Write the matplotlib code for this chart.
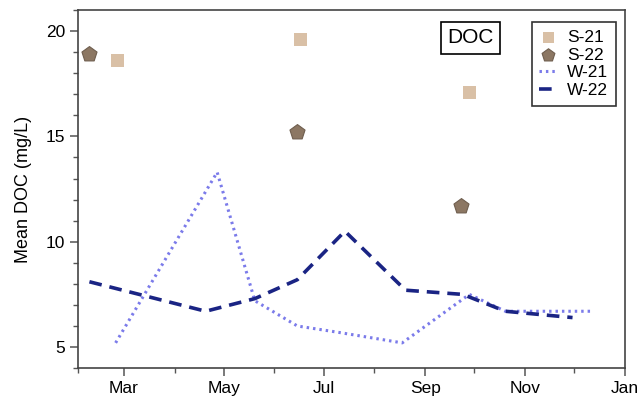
import numpy as np
import pandas as pd
import matplotlib.pyplot as plt
import matplotlib.dates as mdates

plt.rcParams['font.family'] = ['Liberation Sans', 'DejaVu Sans']

# sample dates (plotted on one seasonal axis) and mean DOC values
s21_dates = ["2021-02-25", "2021-06-17", "2021-09-28"]
s21_doc = [18.6, 19.6, 17.1]

s22_dates = ["2021-02-08", "2021-06-15", "2021-09-23"]
s22_doc = [18.9, 15.2, 11.7]

w21_dates = ["2021-02-24", "2021-04-27", "2021-05-20", "2021-06-15", "2021-07-10",
             "2021-08-18", "2021-09-28", "2021-10-20", "2021-12-12"]
w21_doc = [5.2, 13.3, 7.2, 6.0, 5.7, 5.2, 7.5, 6.7, 6.7]

w22_dates = ["2021-02-08", "2021-04-20", "2021-05-20", "2021-06-15", "2021-07-14",
             "2021-08-20", "2021-09-24", "2021-10-20", "2021-11-30"]
w22_doc = [8.1, 6.7, 7.3, 8.2, 10.5, 7.7, 7.5, 6.7, 6.4]

s21_x = pd.to_datetime(s21_dates)
s22_x = pd.to_datetime(s22_dates)
w21_x = pd.to_datetime(w21_dates)
w22_x = pd.to_datetime(w22_dates)

fig = plt.figure(figsize=(6.39, 3.98), dpi=100)
ax = fig.add_axes([0.122, 0.075, 0.856, 0.90])

ax.plot(w21_x, w21_doc, linestyle=(0, (0.8, 1.3)), color='#7b7bea', linewidth=2.2, label='W-21')
ax.plot(w22_x, w22_doc, linestyle=(0, (3.5, 2.2)), color='#1a2484', linewidth=2.6, label='W-22')
ax.scatter(s21_x, s21_doc, marker='s', s=90, color='#d9c0a6', edgecolors='none', label='S-21', zorder=3)
ax.scatter(s22_x, s22_doc, marker='p', s=130, color='#8c7763', edgecolors='#6f5e4e', linewidths=0.8,
           label='S-22', zorder=3)

ax.set_xlim(pd.Timestamp("2021-02-01"), pd.Timestamp("2022-01-01"))
ax.set_ylim(4, 21)
ax.xaxis.set_major_locator(mdates.MonthLocator(bymonth=[1, 3, 5, 7, 9, 11]))
ax.xaxis.set_minor_locator(mdates.MonthLocator(bymonth=[2, 4, 6, 8, 10, 12]))
ax.xaxis.set_major_formatter(mdates.DateFormatter('%b'))
ax.set_yticks([5, 10, 15, 20])
ax.set_yticks(np.arange(4, 22, 1), minor=True)

for sp in ax.spines.values():
    sp.set_color('#444444')
    sp.set_linewidth(1.2)
ax.tick_params(which='major', length=6, width=1.1, color='#555555', labelsize=12.5, pad=3)
ax.tick_params(which='minor', length=3.8, width=1.0, color='#555555')

ax.set_ylabel('Mean DOC (mg/L)', fontsize=13, labelpad=10)

handles, labels = ax.get_legend_handles_labels()
order = [2, 3, 0, 1]
leg = ax.legend([handles[i] for i in order], [labels[i] for i in order], loc='upper right',
                bbox_to_anchor=(0.984, 0.966), fontsize=12.5, frameon=True, fancybox=False,
                edgecolor='black', handlelength=1.0, handletextpad=0.6, borderpad=0.45,
                labelspacing=0.14, markerscale=0.85, borderaxespad=0)
leg.get_frame().set_linewidth(1.2)

ax.text(0.718, 0.922, 'DOC', transform=ax.transAxes, fontsize=15, ha='center', va='center',
        bbox=dict(boxstyle='square,pad=0.3', facecolor='white', edgecolor='black', linewidth=1.2))

plt.savefig("out.png")
